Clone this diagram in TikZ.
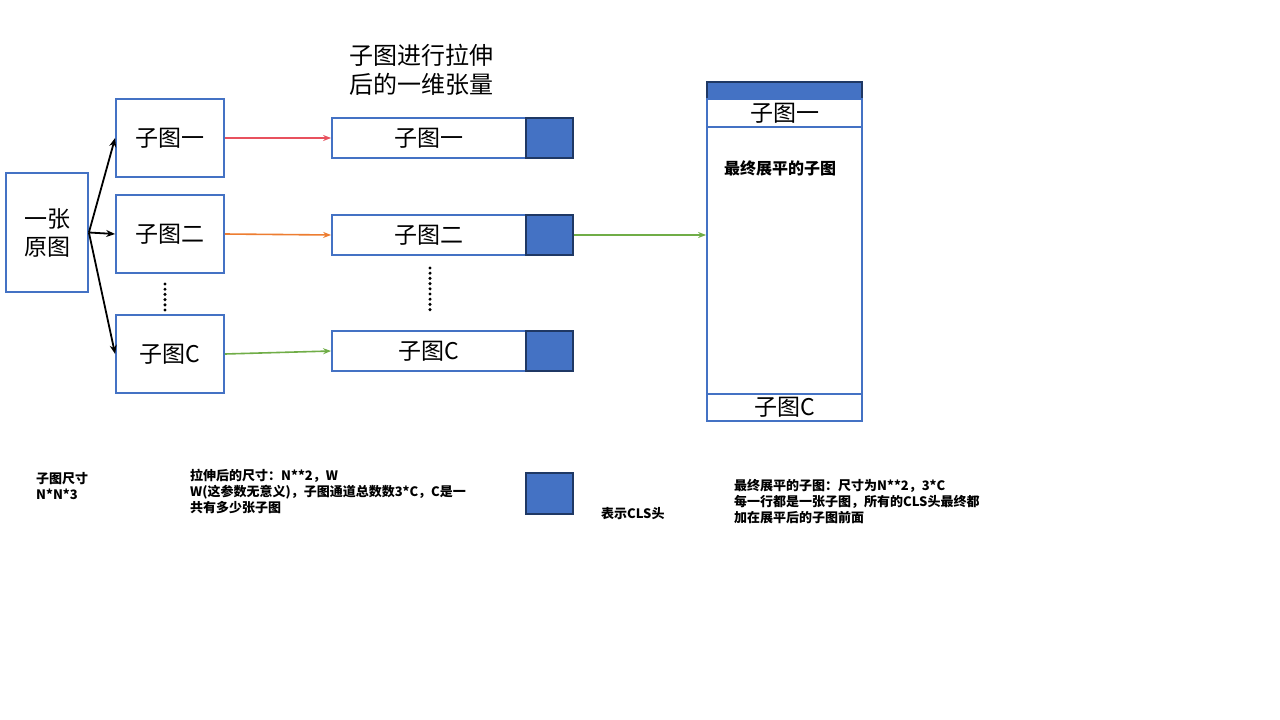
\documentclass[tikz,border=0pt]{standalone}
\usepackage{fontspec}
\setmainfont{Noto Sans CJK SC}
\usetikzlibrary{arrows.meta}
\definecolor{BoxBlue}{HTML}{4472C4}
\definecolor{HeadNavy}{HTML}{1F3864}
\definecolor{LinkRed}{HTML}{E8515E}
\definecolor{LinkOrange}{HTML}{ED7D31}
\definecolor{LinkGreen}{HTML}{70AD47}
\tikzset{
  subbox/.style={
    draw=BoxBlue,
    line width=1.8pt,
    align=center,
    inner sep=0pt,
    font=\fontsize{23}{28}\selectfont,
    minimum width=108pt,
    minimum height=78pt
  },
  vecbox/.style={
    draw=BoxBlue,
    line width=1.8pt,
    inner sep=0pt,
    font=\fontsize{23}{28}\selectfont,
    minimum width=194pt,
    minimum height=40pt
  },
  clsbox/.style={
    draw=HeadNavy,
    fill=BoxBlue,
    line width=2pt,
    inner sep=0pt,
    minimum width=47pt,
    minimum height=40pt
  },
  rowbox/.style={
    draw=BoxBlue,
    line width=1.8pt,
    inner sep=0pt,
    font=\fontsize{23}{28}\selectfont,
    minimum width=155pt
  },
  note/.style={
    inner sep=0pt,
    align=left,
    anchor=north west,
    font=\bfseries\fontsize{13}{16}\selectfont
  },
  arrow/.style={-{Stealth[length=9pt,width=7pt]}, line width=1.8pt},
  link/.style={-{Stealth[length=8pt,width=6pt]}, line width=1.6pt},
  dotline/.style={line width=3.4pt, line cap=round, dash pattern=on 0pt off 5.2pt}
}
\begin{document}
\begin{tikzpicture}[x=1pt,y=-1pt]
  \useasboundingbox[fill=white] (0,0) rectangle (1280,720);
  % original picture and its sub pictures
  \node[subbox, minimum width=82pt, minimum height=119pt] (orig) at (47,232.5) {一张\\原图};
  \node[subbox] (sub1) at (170,138) {子图一};
  \node[subbox] (sub2) at (170,234) {子图二};
  \node[subbox] (subc) at (170,354) {子图C};
  \draw[dotline] (165,284) -- (165,310);
  \draw[arrow] (orig.east) -- (sub1.west);
  \draw[arrow] (orig.east) -- (sub2.west);
  \draw[arrow] (orig.east) -- (subc.west);
  % flattened vectors with cls head
  \node[font=\fontsize{24}{29}\selectfont, align=left, inner sep=0pt] (title) at (421,70)
    {子图进行拉伸\\后的一维张量};
  \node[vecbox] (vec1) at (429,138) {子图一};
  \node[vecbox] (vec2) at (429,235) {子图二};
  \node[vecbox] (vecc) at (429,351) {子图C};
  \node[clsbox] (cls1) at (549.5,138) {};
  \node[clsbox] (cls2) at (549.5,235) {};
  \node[clsbox] (clsc) at (549.5,351) {};
  \draw[dotline] (430,268) -- (430,313);
  \draw[link, LinkRed] (sub1.east) -- (vec1.west);
  \draw[link, LinkOrange] (sub2.east) -- (vec2.west);
  \draw[link, LinkGreen] (subc.east) -- (vecc.west);
  % final flattened result
  \node[rowbox, minimum height=339pt] (flat) at (784.5,251.5) {};
  \node[rowbox, draw=HeadNavy, fill=BoxBlue, minimum height=17pt] (flattop) at (784.5,90.5) {};
  \node[rowbox, minimum height=28pt] (flat1) at (784.5,113) {子图一};
  \node[rowbox, minimum height=27pt] (flatc) at (784.5,407.5) {子图C};
  \node[font=\bfseries\fontsize{16}{19}\selectfont, inner sep=0pt] (flatlabel) at (780,168) {最终展平的子图};
  \draw[link, LinkGreen] (cls2.east) -- (cls2.east -| flat.west);
  % notes
  \node[note] (note1) at (36,472) {子图尺寸\\N*N*3};
  \node[note] (note2) at (190,469) {拉伸后的尺寸：N**2，W\\W(这参数无意义)，子图通道总数数3*C，C是一\\共有多少张子图};
  \node[clsbox, minimum height=41pt] (legend) at (549.5,493.5) {};
  \node[note, anchor=west] (legendtext) at (601,514) {表示CLS头};
  \node[note] (note3) at (734,479) {最终展平的子图：尺寸为N**2，3*C\\每一行都是一张子图，所有的CLS头最终都\\加在展平后的子图前面};
\end{tikzpicture}
\end{document}
